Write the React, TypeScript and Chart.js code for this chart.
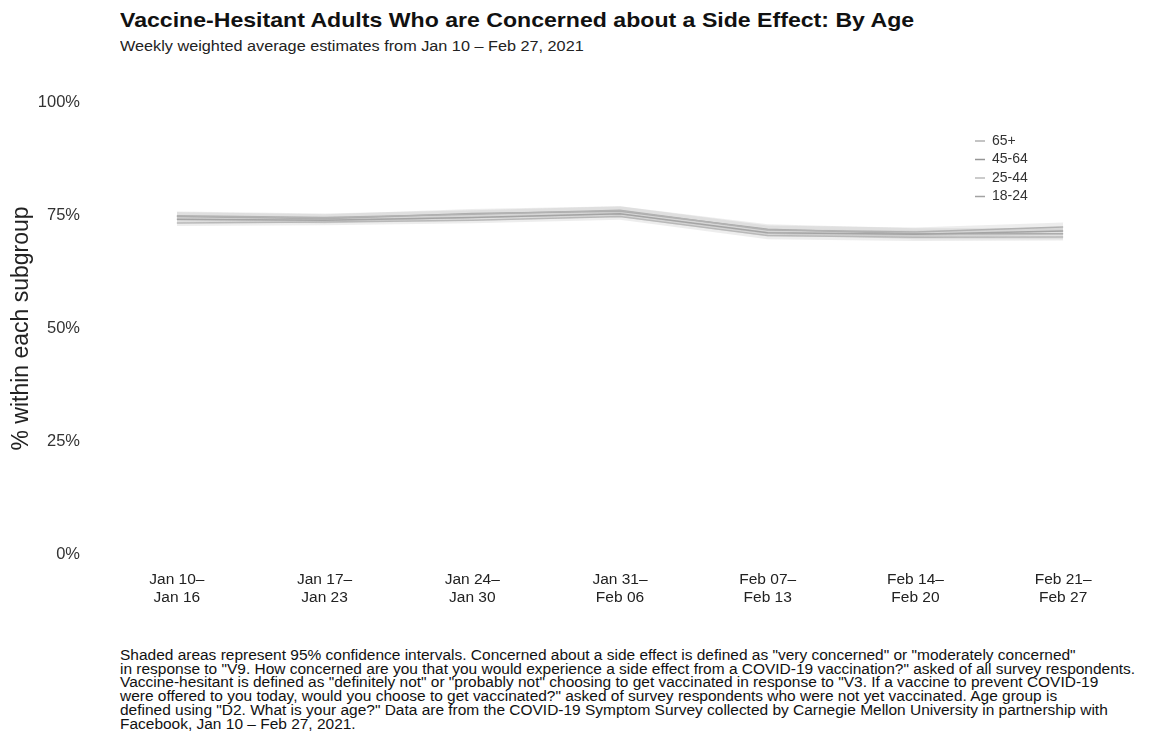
import React, { useEffect, useRef } from "react";
import { Chart, registerables } from "chart.js";

Chart.register(...registerables);

const weekLabels: string[][] = [
  ["Jan 10–", "Jan 16"],
  ["Jan 17–", "Jan 23"],
  ["Jan 24–", "Jan 30"],
  ["Jan 31–", "Feb 06"],
  ["Feb 07–", "Feb 13"],
  ["Feb 14–", "Feb 20"],
  ["Feb 21–", "Feb 27"],
];

const seriesNames = ["65+", "45-64", "25-44", "18-24"];

const age65plus = [75.0, 74.6, 75.3, 76.2, 71.8, 71.4, 72.5];
const age45to64 = [74.2, 74.0, 74.6, 75.4, 71.2, 70.9, 71.6];
const age25to44 = [73.4, 73.6, 74.0, 74.8, 70.6, 70.2, 70.3];
const age18to24 = [74.8, 74.3, 75.5, 76.0, 72.0, 71.0, 71.0];

const moe65plus = [0.9, 0.9, 0.9, 0.9, 1.0, 1.0, 1.0];
const moe45to64 = [0.7, 0.7, 0.7, 0.7, 0.8, 0.8, 0.8];
const moe25to44 = [0.7, 0.7, 0.7, 0.7, 0.8, 0.8, 0.8];
const moe18to24 = [1.0, 1.0, 1.0, 1.1, 1.1, 1.2, 1.2];

const yTickValues = [0, 25, 50, 75, 100];

const lineColors = ["#b0b0b0", "#969696", "#bababa", "#a2a2a2"];

const footnoteLines = [
  'Shaded areas represent 95% confidence intervals. Concerned about a side effect is defined as "very concerned" or "moderately concerned"',
  'in response to "V9. How concerned are you that you would experience a side effect from a COVID-19 vaccination?" asked of all survey respondents.',
  'Vaccine-hesitant is defined as "definitely not" or "probably not" choosing to get vaccinated in response to "V3. If a vaccine to prevent COVID-19',
  'were offered to you today, would you choose to get vaccinated?" asked of survey respondents who were not yet vaccinated. Age group is',
  'defined using "D2. What is your age?" Data are from the COVID-19 Symptom Survey collected by Carnegie Mellon University in partnership with',
  "Facebook, Jan 10 – Feb 27, 2021.",
];

const FONT = "'Liberation Sans', Arial, Helvetica, sans-serif";

export default function App() {
  const canvasRef = useRef<HTMLCanvasElement | null>(null);

  useEffect(() => {
    if (!canvasRef.current) return;
    const values = [age65plus, age45to64, age25to44, age18to24];
    const moes = [moe65plus, moe45to64, moe25to44, moe18to24];
    const datasets: any[] = [];
    values.forEach((vals, i) => {
      datasets.push({
        label: seriesNames[i] + " upper",
        data: vals.map((v, j) => v + moes[i][j]),
        borderWidth: 0,
        pointRadius: 0,
        backgroundColor: "rgba(185,185,185,0.25)",
        fill: "+1",
        tension: 0,
      });
      datasets.push({
        label: seriesNames[i] + " lower",
        data: vals.map((v, j) => v - moes[i][j]),
        borderWidth: 0,
        pointRadius: 0,
        fill: false,
        tension: 0,
      });
      datasets.push({
        label: seriesNames[i],
        data: vals,
        borderColor: lineColors[i],
        borderWidth: 1.5,
        pointRadius: 0,
        fill: false,
        tension: 0,
      });
    });

    const legendPlugin = {
      id: "customLegend",
      afterDraw(chart: any) {
        const ctx = chart.ctx;
        const area = chart.chartArea;
        const x0 = area.right - 162;
        const y0 = 71;
        ctx.save();
        ctx.font = "14px " + FONT;
        ctx.textBaseline = "middle";
        seriesNames.forEach((name, i) => {
          const y = y0 + i * 18.5;
          ctx.strokeStyle = lineColors[i];
          ctx.lineWidth = 1.5;
          ctx.beginPath();
          ctx.moveTo(x0, y);
          ctx.lineTo(x0 + 10, y);
          ctx.stroke();
          ctx.fillStyle = "#333";
          ctx.fillText(name, x0 + 17, y);
        });
        ctx.restore();
      },
    };

    const chart = new Chart(canvasRef.current, {
      type: "line",
      data: { labels: weekLabels, datasets },
      options: {
        animation: false,
        responsive: false,
        maintainAspectRatio: false,
        layout: { padding: { top: 28, right: 6, left: 0, bottom: 0 } },
        plugins: {
          legend: { display: false },
          tooltip: { enabled: false },
          title: { display: false },
        },
        scales: {
          x: {
            offset: true,
            grid: { display: false, drawTicks: false },
            border: { display: false },
            ticks: {
              color: "#222",
              font: { size: 15.5, family: FONT, lineHeight: 1.15 },
              padding: 17,
              maxRotation: 0,
              autoSkip: false,
            },
            afterFit(scale: any) {
              scale.height = 60;
            },
          },
          y: {
            min: 0,
            max: 100,
            grid: { display: false, drawTicks: false },
            border: { display: false },
            afterBuildTicks(scale: any) {
              scale.ticks = yTickValues.map((v) => ({ value: v }));
            },
            ticks: {
              color: "#333",
              font: { size: 16.5, family: FONT },
              padding: 23,
              callback: (v: any) => v + "%",
            },
            title: {
              display: true,
              text: "% within each subgroup",
              color: "#222",
              font: { size: 23, family: FONT },
              padding: { top: 0, bottom: 0 },
            },
            afterFit(scale: any) {
              scale.width = 95;
            },
          },
        },
      },
      plugins: [legendPlugin],
    });
    return () => chart.destroy();
  }, []);

  return (
    <div style={{ position: "relative", width: 1135, height: 726, fontFamily: FONT, color: "#111" }}>
      <div
        style={{
          position: "absolute",
          left: 112,
          top: 0,
          fontSize: 21,
          fontWeight: "bold",
          whiteSpace: "nowrap",
          lineHeight: "24px",
          transform: "scaleX(1.1)",
          transformOrigin: "left top",
        }}
      >
        Vaccine-Hesitant Adults Who are Concerned about a Side Effect: By Age
      </div>
      <div
        style={{
          position: "absolute",
          left: 112,
          top: 30,
          fontSize: 14,
          whiteSpace: "nowrap",
          lineHeight: "16px",
          color: "#222",
          transform: "scaleX(1.16)",
          transformOrigin: "left top",
        }}
      >
        Weekly weighted average estimates from Jan 10 – Feb 27, 2021
      </div>
      <canvas
        ref={canvasRef}
        width={1135}
        height={544}
        style={{ position: "absolute", left: 0, top: 62, width: 1135, height: 544 }}
      />
      <div
        style={{
          position: "absolute",
          left: 112,
          top: 641,
          fontSize: 14,
          lineHeight: "13.7px",
          whiteSpace: "nowrap",
          color: "#111",
          transform: "scaleX(1.105)",
          transformOrigin: "left top",
        }}
      >
        {footnoteLines.map((l, i) => (
          <div key={i}>{l}</div>
        ))}
      </div>
    </div>
  );
}
